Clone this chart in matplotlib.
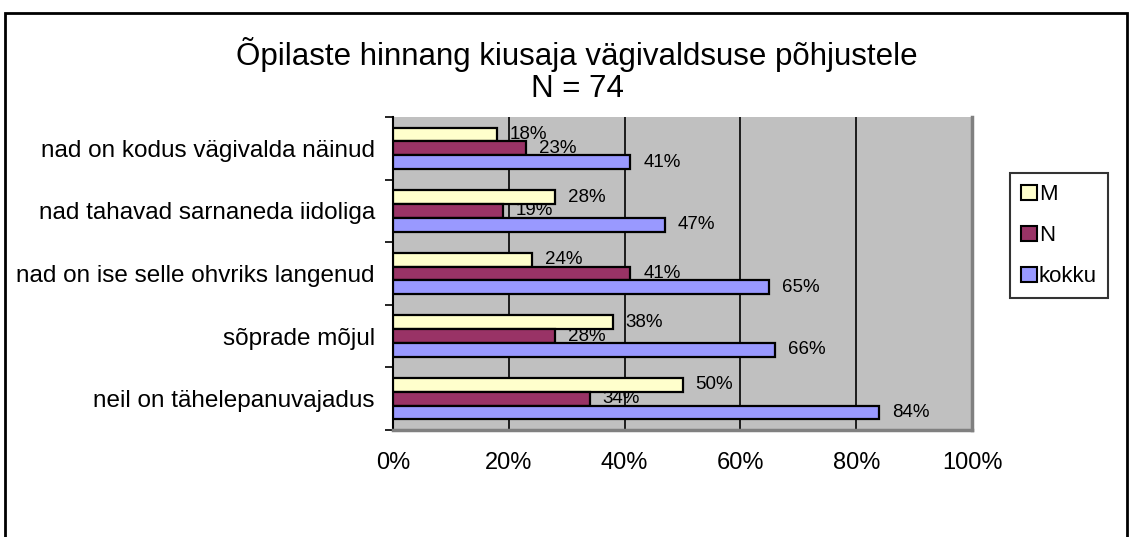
import numpy as np
import matplotlib.pyplot as plt
from matplotlib.patches import Rectangle, Patch

# data (top to bottom as shown)
categories = ['nad on kodus vägivalda näinud',
              'nad tahavad sarnaneda iidoliga',
              'nad on ise selle ohvriks langenud',
              'sõprade mõjul',
              'neil on tähelepanuvajadus']
m_vals = [18, 28, 24, 38, 50]
n_vals = [23, 19, 41, 28, 34]
kokku_vals = [41, 47, 65, 66, 84]
series_names = ['M', 'N', 'kokku']
x_ticks = [0, 20, 40, 60, 80, 100]

colors = ['#FFFFCC', '#993366', '#9999FF']

plt.rcParams['font.family'] = ['Liberation Sans', 'DejaVu Sans']

fig = plt.figure(figsize=(11.3, 5.37), dpi=100)
ax = fig.add_axes([393 / 1130, 1 - 430 / 537, 579 / 1130, 313 / 537])
ax.set_facecolor('#C0C0C0')

y = np.arange(len(categories))
bh = 0.22
offsets = [-0.22, 0.0, 0.22]
for vals, off, col, name in zip([m_vals, n_vals, kokku_vals], offsets, colors, series_names):
    ax.barh(y + off, vals, height=bh, color=col, edgecolor='black', linewidth=1.6,
            zorder=3, label=name)
    for yi, v in zip(y, vals):
        ax.text(v + 2.2, yi + off, f'{v}%', va='center', ha='left', fontsize=13.5,
                color='black', zorder=2)

ax.set_xlim(0, 100)
ax.set_ylim(len(categories) - 0.5, -0.5)

for g in x_ticks[1:-1]:
    ax.axvline(g, color='black', linewidth=1.2, zorder=1)

ax.set_xticks(x_ticks)
ax.set_xticklabels([f'{t}%' for t in x_ticks], fontsize=17)
ax.tick_params(axis='x', length=0, pad=16)

ax.set_yticks(y)
ax.set_yticklabels(categories, fontsize=17.5)
ax.tick_params(axis='y', which='major', length=0, pad=13)
ax.set_yticks(np.arange(len(categories) + 1) - 0.5, minor=True)
ax.tick_params(axis='y', which='minor', length=6, width=1.2, direction='out')

ax.spines['left'].set_color('black')
ax.spines['left'].set_linewidth(1.5)
for s in ['right', 'bottom']:
    ax.spines[s].set_color('#808080')
    ax.spines[s].set_linewidth(2.5)
ax.spines['top'].set_visible(False)

fig.text(577 / 1130, 1 - 55 / 537, 'Õpilaste hinnang kiusaja vägivaldsuse põhjustele',
         ha='center', va='center', fontsize=22.5)
fig.text(577 / 1130, 1 - 89 / 537, 'N = 74', ha='center', va='center', fontsize=22.5)

handles = [Patch(facecolor=c, edgecolor='black', linewidth=1.5) for c in colors]
leg = fig.legend(handles, series_names, loc='upper left',
                 bbox_to_anchor=(1010 / 1130, 1 - 173 / 537), fontsize=16,
                 frameon=True, fancybox=False, edgecolor='black',
                 handlelength=0.7, handleheight=0.7, handletextpad=0.1,
                 labelspacing=0.9, borderpad=0.5, borderaxespad=0)
leg.get_frame().set_linewidth(1.5)

# chart border
fig.patches.append(Rectangle((5 / 1130, -0.05), 1122 / 1130, 1.05 - 13 / 537,
                             transform=fig.transFigure, fill=False,
                             edgecolor='black', linewidth=2))

fig.savefig('out.png', dpi=100)
